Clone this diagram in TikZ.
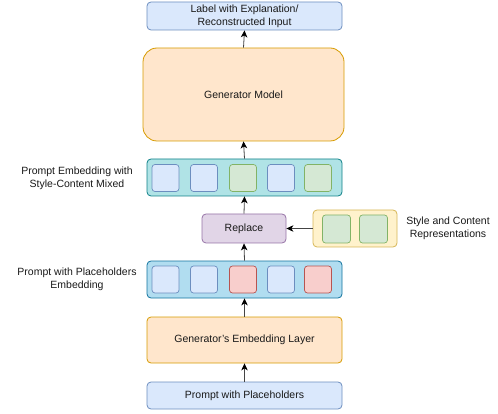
\documentclass[tikz,border=0pt]{standalone}
\usepackage{fontspec}
\setmainfont{Liberation Sans}
\usetikzlibrary{arrows.meta}
\definecolor{bluef}{HTML}{DAE8FC}\definecolor{bluel}{HTML}{6C8EBF}
\definecolor{orf}{HTML}{FFE6CC}\definecolor{orl}{HTML}{D79B00}
\definecolor{grf}{HTML}{D5E8D4}\definecolor{grl}{HTML}{82B366}
\definecolor{redf}{HTML}{F8CECC}\definecolor{redl}{HTML}{B85450}
\definecolor{puf}{HTML}{E1D5E7}\definecolor{pul}{HTML}{9673A6}
\definecolor{yef}{HTML}{FFF2CC}\definecolor{yel}{HTML}{D6B656}
\definecolor{tef}{HTML}{B0E3E6}\definecolor{tel}{HTML}{0E8088}
\definecolor{sbf}{HTML}{B1DDF0}\definecolor{sbl}{HTML}{10739E}
\definecolor{arr}{HTML}{444444}
\begin{document}
\begin{tikzpicture}[x=1pt,y=-1pt,
  every node/.style={font=\fontsize{10.5}{13}\selectfont, text=black!90, align=center, inner sep=0pt},
  box/.style={draw, rounded corners=4pt, line width=0.8pt},
  cell/.style={draw, rounded corners=3pt, line width=0.7pt, minimum width=27pt, minimum height=27pt},
  conn/.style={draw=arr, line width=0.8pt, -{Stealth[length=7pt,width=6.5pt,inset=2pt,color=black]}}
]
\useasboundingbox (0,0) rectangle (498,414);
% boxes
\node[box, fill=bluef, draw=bluel, minimum width=195pt, minimum height=28pt] (label) at (244.5,16) {Label with Explanation/\\Reconstructed Input};
\node[box, fill=orf, draw=orl, rounded corners=14pt, minimum width=201pt, minimum height=93pt] (gen) at (243.5,94.5) {Generator Model};
\node[box, fill=tef, draw=tel, minimum width=195pt, minimum height=37pt] (mix) at (244.5,177.5) {};
\node[box, fill=puf, draw=pul, minimum width=84pt, minimum height=29pt] (rep) at (244,228.5) {Replace};
\node[box, fill=yef, draw=yel, minimum width=84pt, minimum height=37pt] (sty) at (355,228.5) {};
\node[box, fill=sbf, draw=sbl, minimum width=195pt, minimum height=37pt] (ph) at (244.5,279.5) {};
\node[box, fill=orf, draw=orl, minimum width=195pt, minimum height=46pt] (emb) at (244.5,340) {Generator's Embedding Layer};
\node[box, fill=bluef, draw=bluel, minimum width=195pt, minimum height=27pt] (prm) at (244.5,395.5) {Prompt with Placeholders};
% cells in mixed
\node[cell, fill=bluef, draw=bluel] (m1) at (165.5,178) {};
\node[cell, fill=bluef, draw=bluel] (m2) at (204,178) {};
\node[cell, fill=grf, draw=grl] (m3) at (243,178) {};
\node[cell, fill=bluef, draw=bluel] (m4) at (281,178) {};
\node[cell, fill=grf, draw=grl] (m5) at (318,178) {};
% cells in placeholders
\node[cell, fill=bluef, draw=bluel] (p1) at (165.5,279.5) {};
\node[cell, fill=bluef, draw=bluel] (p2) at (204,279.5) {};
\node[cell, fill=redf, draw=redl] (p3) at (243,279.5) {};
\node[cell, fill=bluef, draw=bluel] (p4) at (281,279.5) {};
\node[cell, fill=redf, draw=redl] (p5) at (318,279.5) {};
% cells in style
\node[cell, fill=grf, draw=grl, minimum width=28pt, minimum height=28pt] (s1) at (336.5,229) {};
\node[cell, fill=grf, draw=grl, minimum width=28pt, minimum height=28pt] (s2) at (373.5,229) {};
% side labels
\node (lmix) at (77,178) {Prompt Embedding with\\Style-Content Mixed};
\node (lph) at (77,279.5) {Prompt with Placeholders\\Embedding};
\node (lsty) at (448,228.5) {Style and Content\\Representations};
% connectors
\draw[conn] (prm.north) -- (emb.south);
\draw[conn] (emb.north) -- (ph.south);
\draw[conn] (ph.north) -- (rep.south);
\draw[conn] (rep.north) -- (mix.south);
\draw[conn] (mix.north) -- (gen.south);
\draw[conn] (gen.north) -- (label.south);
\draw[conn] (sty.west) -- (rep.east);
\end{tikzpicture}
\end{document}
